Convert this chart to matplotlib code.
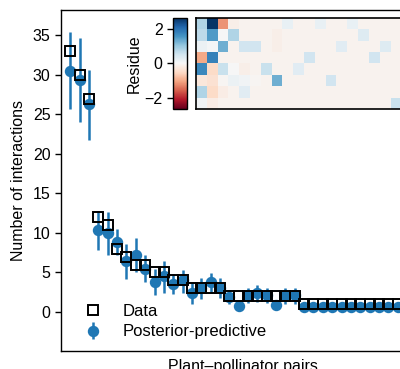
import matplotlib
matplotlib.use("Agg")
import matplotlib.pyplot as plt
import numpy as np

plt.rcParams['font.family'] = ['Liberation Sans', 'DejaVu Sans']

# Observed number of interactions per plant-pollinator pair
data_vals = [33, 30, 27, 12, 11, 8, 7, 6, 6, 5, 5, 4, 4, 3, 3, 3, 3, 2, 2, 2,
             2, 2, 2, 2, 2, 1, 1, 1, 1, 1, 1, 1, 1, 1, 1, 1, 1, 1]
# Posterior-predictive mean and interval
pred_mean = [30.5, 29.3, 26.3, 10.4, 10.0, 8.9, 6.4, 7.2, 5.5, 3.8, 4.5, 3.5, 4.1,
             2.4, 3.0, 3.8, 3.0, 1.9, 0.7, 2.1, 2.4, 2.2, 0.9, 2.2, 2.2,
             0.6, 0.6, 0.6, 0.6, 0.6, 0.6, 0.6, 0.6, 0.6, 0.6, 0.6, 0.6, 0.6]
pred_low = [25.7, 24.0, 21.8, 7.8, 7.2, 7.2, 4.2, 5.0, 3.8, 2.1, 2.4, 2.3, 2.4,
            1.0, 1.7, 2.4, 1.8, 1.0, 0.3, 1.2, 1.3, 1.2, 0.5, 1.0, 1.0,
            0.2, 0.2, 0.2, 0.2, 0.2, 0.2, 0.2, 0.2, 0.2, 0.2, 0.2, 0.2, 0.2]
pred_high = [35.4, 34.6, 30.6, 12.8, 12.6, 10.5, 8.6, 9.3, 7.2, 5.5, 6.4, 4.8, 5.3,
             3.7, 4.3, 4.9, 4.3, 2.8, 1.2, 3.0, 3.4, 3.0, 1.4, 3.0, 3.0,
             1.1, 1.1, 1.1, 1.1, 1.1, 1.1, 1.1, 1.1, 1.1, 1.1, 1.1, 1.1, 1.1]

# Residue matrix (rows x columns) for the inset heatmap
res_r0 = [0.8, 2.6, -1.2, -0.15, -0.1, -0.1, -0.1, -0.1, 0.2, -0.1, -0.1, 0.2, -0.1, -0.1, 0.2, -0.1, -0.1, -0.1, -0.1, -0.1, -0.1]
res_r1 = [0.7, 1.5, 0.0, 0.8, -0.1, -0.1, -0.1, -0.15, -0.1, -0.1, -0.1, -0.1, -0.1, -0.1, -0.1, 0.35, -0.1, -0.1, -0.1, -0.1, -0.1]
res_r2 = [0.15, 0.05, 1.3, -0.1, 0.5, 0.5, -0.1, -0.15, -0.1, -0.1, -0.1, -0.1, -0.1, 0.3, -0.1, -0.1, -0.1, 0.35, -0.1, -0.1, -0.1]
res_r3 = [-1.0, 1.8, -0.1, -0.1, -0.1, -0.1, -0.1, -0.1, -0.1, -0.1, 0.5, -0.1, -0.1, -0.1, -0.1, -0.1, 0.5, -0.1, -0.1, -0.1, -0.1]
res_r4 = [1.7, -0.5, 0.6, 0.0, -0.15, -0.1, 0.6, -0.1, -0.1, 0.3, -0.1, -0.1, -0.1, -0.1, -0.1, -0.1, -0.1, -0.1, -0.1, -0.1, -0.1]
res_r5 = [-0.3, -0.4, -0.05, 0.15, 0.1, -0.05, -0.1, 1.3, -0.1, -0.1, -0.1, -0.1, 0.5, -0.1, -0.1, -0.1, -0.1, -0.1, -0.1, -0.1, -0.1]
res_r6 = [0.8, -0.5, -0.2, -0.1, 0.3, -0.1, -0.1, -0.1, -0.1, -0.1, -0.1, -0.1, -0.1, -0.1, -0.1, -0.1, -0.1, -0.1, -0.1, -0.1, -0.1]
res_r7 = [0.1, -0.2, -0.1, -0.1, -0.1, -0.1, -0.1, -0.1, -0.1, -0.1, -0.1, -0.1, -0.1, -0.1, -0.1, -0.1, -0.1, -0.1, 0.6, -0.1, -0.1]
cbar_ticks = [-2, 0, 2]
y_ticks = [0, 5, 10, 15, 20, 25, 30, 35]

blue = '#1f77b4'
FS = 11.5
W, H = 400, 369
fig = plt.figure(figsize=(W / 100, H / 100), dpi=100)

n = len(data_vals)
x = np.arange(n)
px_per_unit = 9.35
left_px, top_px, bot_px = 61, 10, 351
xlim = (-1, n)
ax_w = (xlim[1] - xlim[0]) * px_per_unit
ax = fig.add_axes([left_px / W, (H - bot_px) / H, ax_w / W, (bot_px - top_px) / H])

pm = np.array(pred_mean)
yerr = np.vstack([pm - np.array(pred_low), np.array(pred_high) - pm])
eb = ax.errorbar(x, pm, yerr=yerr, fmt='o', color=blue, ms=7.2, elinewidth=1.8,
                 capsize=0, zorder=2)
dl, = ax.plot(x, data_vals, 's', mfc='none', mec='black', mew=1.4, ms=7.5,
              zorder=3)

ax.set_xlim(*xlim)
ax.set_ylim(-4.93, 38.2)
ax.set_xticks([])
ax.set_yticks(y_ticks)
ax.tick_params(axis='y', labelsize=FS, length=4, width=1)
for s in ax.spines.values():
    s.set_linewidth(1.0)
ax.set_ylabel('Number of interactions', fontsize=FS, labelpad=5)
ax.set_xlabel('Plant\u2013pollinator pairs', fontsize=FS, labelpad=6)

ax.legend([dl, eb], ['Data', 'Posterior-predictive'],
          loc='lower left', frameon=False, fontsize=12,
          bbox_to_anchor=(0.0, -0.01), handletextpad=0.8, labelspacing=0.35)

# inset heatmap
res = np.array([res_r0, res_r1, res_r2, res_r3, res_r4, res_r5, res_r6, res_r7])
nr, nc = res.shape
cell_w, in_top, in_bot, in_left = 10.8, 17.7, 108.7, 196
iax = fig.add_axes([in_left / W, (H - in_bot) / H, nc * cell_w / W, (in_bot - in_top) / H])
im = iax.imshow(res, cmap='RdBu', vmin=-2.65, vmax=2.65, aspect='auto',
                interpolation='nearest')
iax.set_xticks([])
iax.set_yticks([])
for s in iax.spines.values():
    s.set_linewidth(1.2)

cax = fig.add_axes([173 / W, (H - in_bot) / H, 14 / W, (in_bot - in_top) / H])
cb = fig.colorbar(im, cax=cax, ticks=cbar_ticks)
cax.yaxis.set_ticks_position('left')
cax.yaxis.set_label_position('left')
cax.tick_params(labelsize=FS, length=4, width=1)
cb.set_label('Residue', fontsize=FS, labelpad=2)
cb.outline.set_linewidth(1.0)

fig.savefig('out.png', dpi=100)
